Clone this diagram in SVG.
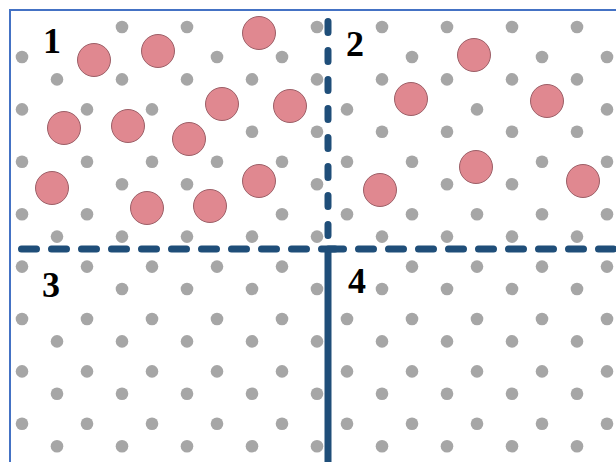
<svg xmlns="http://www.w3.org/2000/svg" width="616" height="462" viewBox="0 0 616 462">
<style>
.dot{fill:#a6a6a6}
.p{fill:#e08890;stroke:#9c5f67;stroke-width:1}
.dash{fill:none;stroke:#1f4e79;stroke-width:7;stroke-linecap:round}
.solid{fill:none;stroke:#1f4e79;stroke-width:7}
.lbl{font-family:"Liberation Serif","Times New Roman",serif;font-weight:bold;font-size:36px;fill:#000;text-anchor:middle}
</style>
<rect width="616" height="462" fill="#fff"/>
<g id="border"><path d="M10,462 V10 H616" fill="none" stroke="#4472c4" stroke-width="2"/></g>
<g id="grid-dots">
<!-- y=27 -->
<circle class="dot" cx="122" cy="27" r="6.3"/><circle class="dot" cx="187" cy="27" r="6.3"/><circle class="dot" cx="317" cy="27" r="6.3"/><circle class="dot" cx="382" cy="27" r="6.3"/><circle class="dot" cx="447" cy="27" r="6.3"/><circle class="dot" cx="512" cy="27" r="6.3"/><circle class="dot" cx="577" cy="27" r="6.3"/>
<!-- y=57 -->
<circle class="dot" cx="22" cy="57" r="6.3"/><circle class="dot" cx="217" cy="57" r="6.3"/><circle class="dot" cx="282" cy="57" r="6.3"/><circle class="dot" cx="412" cy="57" r="6.3"/><circle class="dot" cx="542" cy="57" r="6.3"/><circle class="dot" cx="607" cy="57" r="6.3"/>
<!-- y=79.4 -->
<circle class="dot" cx="57" cy="79.4" r="6.3"/><circle class="dot" cx="122" cy="79.4" r="6.3"/><circle class="dot" cx="187" cy="79.4" r="6.3"/><circle class="dot" cx="252" cy="79.4" r="6.3"/><circle class="dot" cx="317" cy="79.4" r="6.3"/><circle class="dot" cx="382" cy="79.4" r="6.3"/><circle class="dot" cx="447" cy="79.4" r="6.3"/><circle class="dot" cx="512" cy="79.4" r="6.3"/><circle class="dot" cx="577" cy="79.4" r="6.3"/>
<!-- y=109.4 -->
<circle class="dot" cx="22" cy="109.4" r="6.3"/><circle class="dot" cx="87" cy="109.4" r="6.3"/><circle class="dot" cx="152" cy="109.4" r="6.3"/><circle class="dot" cx="347" cy="109.4" r="6.3"/><circle class="dot" cx="477" cy="109.4" r="6.3"/><circle class="dot" cx="607" cy="109.4" r="6.3"/>
<!-- y=131.8 -->
<circle class="dot" cx="252" cy="131.8" r="6.3"/><circle class="dot" cx="317" cy="131.8" r="6.3"/><circle class="dot" cx="382" cy="131.8" r="6.3"/><circle class="dot" cx="447" cy="131.8" r="6.3"/><circle class="dot" cx="512" cy="131.8" r="6.3"/><circle class="dot" cx="577" cy="131.8" r="6.3"/>
<!-- y=161.8 -->
<circle class="dot" cx="22" cy="161.8" r="6.3"/><circle class="dot" cx="87" cy="161.8" r="6.3"/><circle class="dot" cx="152" cy="161.8" r="6.3"/><circle class="dot" cx="217" cy="161.8" r="6.3"/><circle class="dot" cx="282" cy="161.8" r="6.3"/><circle class="dot" cx="347" cy="161.8" r="6.3"/><circle class="dot" cx="412" cy="161.8" r="6.3"/><circle class="dot" cx="542" cy="161.8" r="6.3"/><circle class="dot" cx="607" cy="161.8" r="6.3"/>
<!-- y=184.2 -->
<circle class="dot" cx="122" cy="184.2" r="6.3"/><circle class="dot" cx="187" cy="184.2" r="6.3"/><circle class="dot" cx="317" cy="184.2" r="6.3"/><circle class="dot" cx="447" cy="184.2" r="6.3"/><circle class="dot" cx="512" cy="184.2" r="6.3"/>
<!-- y=214.2 -->
<circle class="dot" cx="22" cy="214.2" r="6.3"/><circle class="dot" cx="87" cy="214.2" r="6.3"/><circle class="dot" cx="282" cy="214.2" r="6.3"/><circle class="dot" cx="347" cy="214.2" r="6.3"/><circle class="dot" cx="412" cy="214.2" r="6.3"/><circle class="dot" cx="477" cy="214.2" r="6.3"/><circle class="dot" cx="542" cy="214.2" r="6.3"/><circle class="dot" cx="607" cy="214.2" r="6.3"/>
<!-- y=236.6 -->
<circle class="dot" cx="57" cy="236.6" r="6.3"/><circle class="dot" cx="122" cy="236.6" r="6.3"/><circle class="dot" cx="187" cy="236.6" r="6.3"/><circle class="dot" cx="252" cy="236.6" r="6.3"/><circle class="dot" cx="317" cy="236.6" r="6.3"/><circle class="dot" cx="382" cy="236.6" r="6.3"/><circle class="dot" cx="447" cy="236.6" r="6.3"/><circle class="dot" cx="512" cy="236.6" r="6.3"/><circle class="dot" cx="577" cy="236.6" r="6.3"/>
<!-- y=266.6 -->
<circle class="dot" cx="22" cy="266.6" r="6.3"/><circle class="dot" cx="87" cy="266.6" r="6.3"/><circle class="dot" cx="152" cy="266.6" r="6.3"/><circle class="dot" cx="217" cy="266.6" r="6.3"/><circle class="dot" cx="282" cy="266.6" r="6.3"/><circle class="dot" cx="412" cy="266.6" r="6.3"/><circle class="dot" cx="477" cy="266.6" r="6.3"/><circle class="dot" cx="542" cy="266.6" r="6.3"/><circle class="dot" cx="607" cy="266.6" r="6.3"/>
<!-- y=289 -->
<circle class="dot" cx="122" cy="289" r="6.3"/><circle class="dot" cx="187" cy="289" r="6.3"/><circle class="dot" cx="252" cy="289" r="6.3"/><circle class="dot" cx="317" cy="289" r="6.3"/><circle class="dot" cx="382" cy="289" r="6.3"/><circle class="dot" cx="447" cy="289" r="6.3"/><circle class="dot" cx="512" cy="289" r="6.3"/><circle class="dot" cx="577" cy="289" r="6.3"/>
<!-- y=319 -->
<circle class="dot" cx="22" cy="319" r="6.3"/><circle class="dot" cx="87" cy="319" r="6.3"/><circle class="dot" cx="152" cy="319" r="6.3"/><circle class="dot" cx="217" cy="319" r="6.3"/><circle class="dot" cx="282" cy="319" r="6.3"/><circle class="dot" cx="347" cy="319" r="6.3"/><circle class="dot" cx="412" cy="319" r="6.3"/><circle class="dot" cx="477" cy="319" r="6.3"/><circle class="dot" cx="542" cy="319" r="6.3"/><circle class="dot" cx="607" cy="319" r="6.3"/>
<!-- y=341.4 -->
<circle class="dot" cx="57" cy="341.4" r="6.3"/><circle class="dot" cx="122" cy="341.4" r="6.3"/><circle class="dot" cx="187" cy="341.4" r="6.3"/><circle class="dot" cx="252" cy="341.4" r="6.3"/><circle class="dot" cx="317" cy="341.4" r="6.3"/><circle class="dot" cx="382" cy="341.4" r="6.3"/><circle class="dot" cx="447" cy="341.4" r="6.3"/><circle class="dot" cx="512" cy="341.4" r="6.3"/><circle class="dot" cx="577" cy="341.4" r="6.3"/>
<!-- y=371.4 -->
<circle class="dot" cx="22" cy="371.4" r="6.3"/><circle class="dot" cx="87" cy="371.4" r="6.3"/><circle class="dot" cx="152" cy="371.4" r="6.3"/><circle class="dot" cx="217" cy="371.4" r="6.3"/><circle class="dot" cx="282" cy="371.4" r="6.3"/><circle class="dot" cx="347" cy="371.4" r="6.3"/><circle class="dot" cx="412" cy="371.4" r="6.3"/><circle class="dot" cx="477" cy="371.4" r="6.3"/><circle class="dot" cx="542" cy="371.4" r="6.3"/><circle class="dot" cx="607" cy="371.4" r="6.3"/>
<!-- y=393.8 -->
<circle class="dot" cx="57" cy="393.8" r="6.3"/><circle class="dot" cx="122" cy="393.8" r="6.3"/><circle class="dot" cx="187" cy="393.8" r="6.3"/><circle class="dot" cx="252" cy="393.8" r="6.3"/><circle class="dot" cx="317" cy="393.8" r="6.3"/><circle class="dot" cx="382" cy="393.8" r="6.3"/><circle class="dot" cx="447" cy="393.8" r="6.3"/><circle class="dot" cx="512" cy="393.8" r="6.3"/><circle class="dot" cx="577" cy="393.8" r="6.3"/>
<!-- y=423.8 -->
<circle class="dot" cx="22" cy="423.8" r="6.3"/><circle class="dot" cx="87" cy="423.8" r="6.3"/><circle class="dot" cx="152" cy="423.8" r="6.3"/><circle class="dot" cx="217" cy="423.8" r="6.3"/><circle class="dot" cx="282" cy="423.8" r="6.3"/><circle class="dot" cx="347" cy="423.8" r="6.3"/><circle class="dot" cx="412" cy="423.8" r="6.3"/><circle class="dot" cx="477" cy="423.8" r="6.3"/><circle class="dot" cx="542" cy="423.8" r="6.3"/><circle class="dot" cx="607" cy="423.8" r="6.3"/>
<!-- y=446.2 -->
<circle class="dot" cx="57" cy="446.2" r="6.3"/><circle class="dot" cx="122" cy="446.2" r="6.3"/><circle class="dot" cx="187" cy="446.2" r="6.3"/><circle class="dot" cx="252" cy="446.2" r="6.3"/><circle class="dot" cx="317" cy="446.2" r="6.3"/><circle class="dot" cx="382" cy="446.2" r="6.3"/><circle class="dot" cx="447" cy="446.2" r="6.3"/><circle class="dot" cx="512" cy="446.2" r="6.3"/><circle class="dot" cx="577" cy="446.2" r="6.3"/>
</g>
<g id="particles">
<circle class="p" cx="94" cy="60" r="16.5"/>
<circle class="p" cx="158" cy="51" r="16.5"/>
<circle class="p" cx="259" cy="33" r="16.5"/>
<circle class="p" cx="64" cy="128" r="16.5"/>
<circle class="p" cx="128" cy="126" r="16.5"/>
<circle class="p" cx="189" cy="139" r="16.5"/>
<circle class="p" cx="222" cy="104" r="16.5"/>
<circle class="p" cx="290" cy="106" r="16.5"/>
<circle class="p" cx="52" cy="188" r="16.5"/>
<circle class="p" cx="147" cy="208" r="16.5"/>
<circle class="p" cx="210" cy="206" r="16.5"/>
<circle class="p" cx="259" cy="181" r="16.5"/>
<circle class="p" cx="474" cy="55" r="16.5"/>
<circle class="p" cx="411" cy="99" r="16.5"/>
<circle class="p" cx="547" cy="101" r="16.5"/>
<circle class="p" cx="476" cy="167" r="16.5"/>
<circle class="p" cx="380" cy="190" r="16.5"/>
<circle class="p" cx="583" cy="181" r="16.5"/>
</g>
<g id="dividers">
<path class="dash" d="M328,21.5 V240" stroke-dasharray="11 18"/>
<path class="solid" d="M328,249 V462"/>
<path class="dash" d="M21.5,249 H335" stroke-dasharray="15 15"/>
<path class="dash" d="M328.5,249 H620" stroke-dasharray="15 15"/>
</g>
<g id="labels">
<text class="lbl" x="52" y="53">1</text>
<text class="lbl" x="355" y="56">2</text>
<text class="lbl" x="51" y="297">3</text>
<text class="lbl" x="357" y="293">4</text>
</g>
</svg>
